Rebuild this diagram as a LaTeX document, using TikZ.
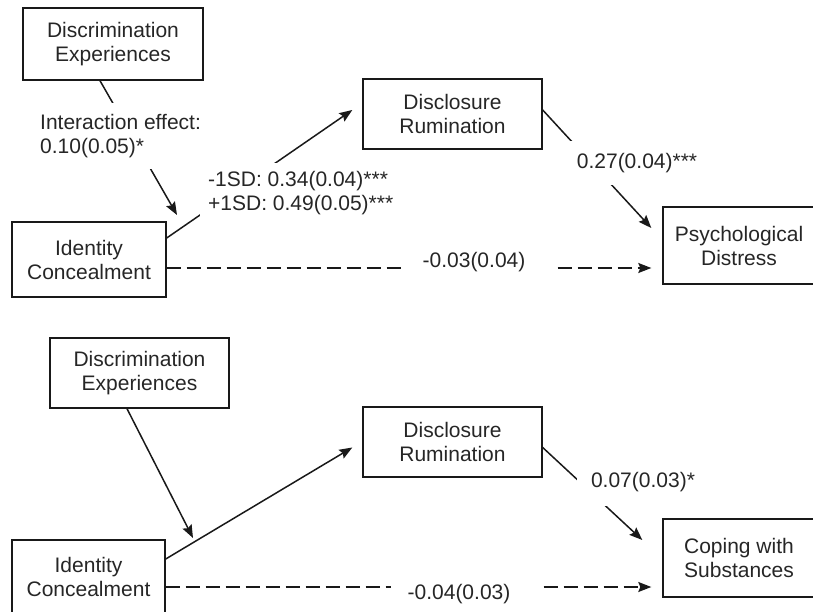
\documentclass[tikz,border=0pt]{standalone}
\usepackage{fontspec}
\setmainfont{Liberation Sans}
\usetikzlibrary{arrows.meta}

\begin{document}
\begin{tikzpicture}[x=1pt, y=-1pt,
    font=\fontsize{21}{24}\selectfont,
    var/.style={draw=black!90, line width=1.4pt, align=center, inner sep=0pt, text=black!85},
    coef/.style={fill=white, align=left, text=black!85},
    link/.style={draw=black!90, line width=1.5pt},
    arr/.style={link, -{Stealth[length=13pt, width=10pt, inset=2pt]}},
    dashline/.style={link, dash pattern=on 14pt off 6pt}]
    \useasboundingbox (0,0) rectangle (813,612);

    % top model: psychological distress
    \node [var, minimum width=180pt, minimum height=72pt] (de1) at (113,44) {Discrimination\\Experiences};
    \node [var, minimum width=154pt, minimum height=75pt] (ic1) at (89,259.5) {Identity\\Concealment};
    \node [var, minimum width=179pt, minimum height=70pt] (dr1) at (452.5,114) {Disclosure\\Rumination};
    \node [var, minimum width=152pt, minimum height=77pt] (pd1) at (739,245.5) {Psychological\\Distress};
    \coordinate (m1) at (177,215);
    \coordinate (s1) at ([yshift=-8.5pt]ic1.east);

    \draw [arr] ([xshift=-13pt]de1.south) -- (m1);
    \draw [arr] ([yshift=21.5pt]ic1.east) -- ([xshift=-10pt, yshift=4pt]dr1.west);
    \draw [arr] ([yshift=4pt]dr1.east) -- ([xshift=-11pt, yshift=17.5pt]pd1.west);
    \node [coef, inner xsep=6pt, inner ysep=11pt, anchor=west] (int1) at (34,136) {Interaction effect:\\0.10(0.05)*};
    \node [coef, inner sep=8pt, anchor=west] (sd1) at (200,193) {-1SD: 0.34(0.04)***\\+1SD: 0.49(0.05)***};
    \node [coef, inner sep=12pt] (b1) at (637,163) {0.27(0.04)***};
    \node [coef, inner sep=0pt] (c1) at (474,262) {-0.03(0.04)};
    \draw [dashline, shorten >=18pt] (s1) -- (s1 -| c1.west);
    \draw [dashline, shorten <=32pt, shorten >=11pt, -{Stealth[length=13pt, width=10pt, inset=2pt]}] (s1 -| c1.east) -- (s1 -| pd1.west);

    % bottom model: coping with substances
    \node [var, minimum width=179pt, minimum height=70pt] (de2) at (139.5,373) {Discrimination\\Experiences};
    \node [var, minimum width=153pt, minimum height=74pt] (ic2) at (88.5,577) {Identity\\Concealment};
    \node [var, minimum width=179pt, minimum height=70pt] (dr2) at (452.5,442) {Disclosure\\Rumination};
    \node [var, minimum width=152pt, minimum height=78pt] (cs2) at (739,558) {Coping with\\Substances};
    \coordinate (m2) at (193,538);
    \coordinate (s2) at ([yshift=-10pt]ic2.east);

    \draw [arr] ([xshift=-12.5pt]de2.south) -- (m2);
    \draw [arr] ([yshift=18pt]ic2.east) -- ([xshift=-10pt, yshift=-5.5pt]dr2.west);
    \draw [arr] ([yshift=-5.5pt]dr2.east) -- ([xshift=-20pt, yshift=18pt]cs2.west);
    \node [coef, inner sep=14pt] (b2) at (643,482) {0.07(0.03)*};
    \node [coef, inner sep=0pt] (c2) at (459,594) {-0.04(0.03)};
    \draw [dashline, shorten >=16pt] (s2) -- (s2 -| c2.west);
    \draw [dashline, shorten <=33pt, shorten >=11pt, -{Stealth[length=13pt, width=10pt, inset=2pt]}] (s2 -| c2.east) -- (s2 -| cs2.west);
\end{tikzpicture}
\end{document}
